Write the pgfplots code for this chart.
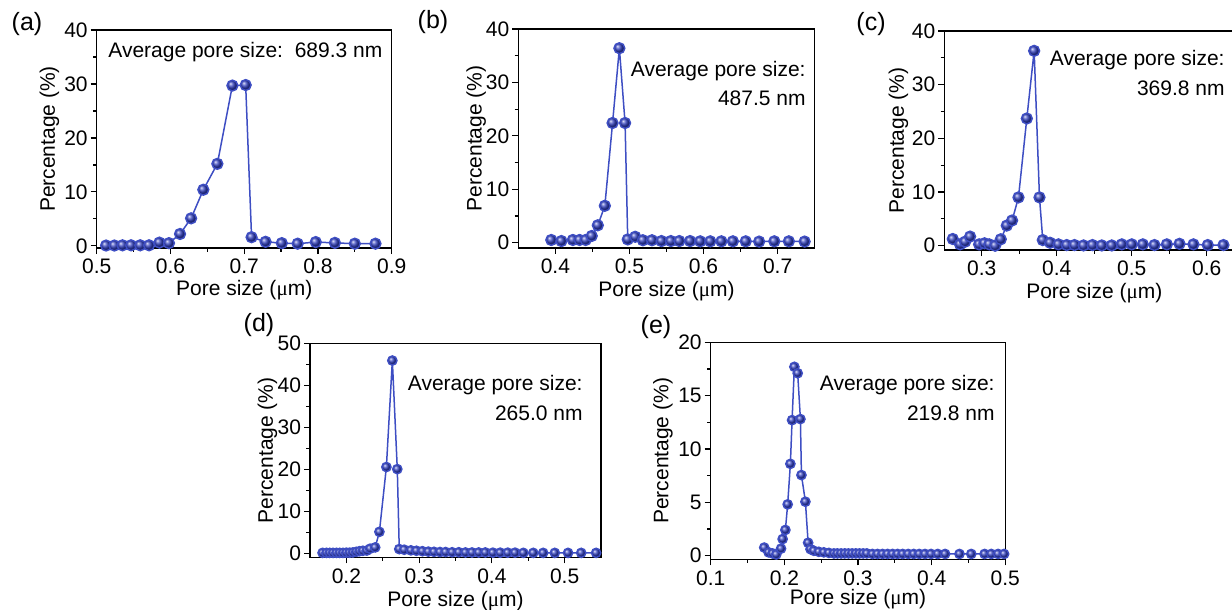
\documentclass[border=0pt]{standalone}
\usepackage{pgfplots}
\pgfplotsset{compat=1.18}
\usepackage{fontspec}
\setmainfont{Liberation Sans}
\newfontfamily\serif{Liberation Serif}
\definecolor{lblue}{RGB}{62,78,195}
\definecolor{bblue}{RGB}{50,64,190}
\newcommand{\fs}{\fontsize{10.5}{12.6}\selectfont}

\pgfplotstableread{
x y
0.5127 0.06
0.5240 0.06
0.5350 0.1
0.5466 0.1
0.5590 0.1
0.5710 0.1
0.5850 0.6
0.5980 0.5
0.6130 2.2
0.6280 5.1
0.6446 10.4
0.6636 15.2
0.6840 29.7
0.7020 29.8
0.7100 1.6
0.7290 0.75
0.7510 0.5
0.7725 0.4
0.7970 0.7
0.8230 0.55
0.8500 0.4
0.8780 0.4
}\dataA

\pgfplotstableread{
x y
0.3945 0.5
0.4082 0.3
0.4236 0.5
0.4327 0.5
0.4409 0.5
0.4491 1.25
0.4573 3.25
0.4668 6.9
0.4772 22.4
0.4864 36.4
0.4941 22.4
0.4977 0.6
0.5078 1.1
0.5181 0.45
0.5304 0.45
0.5432 0.3
0.5559 0.3
0.5673 0.3
0.5818 0.3
0.5955 0.25
0.6091 0.25
0.6241 0.25
0.6396 0.25
0.6569 0.25
0.6750 0.2
0.6955 0.25
0.7151 0.25
0.7364 0.2
}\dataB

\pgfplotstableread{
x y
0.2613 1.25
0.2710 0.25
0.2778 0.75
0.2844 1.7
0.2964 0.25
0.3036 0.45
0.3100 0.25
0.3178 0.0
0.3253 1.2
0.3333 3.75
0.3404 4.7
0.3489 9.0
0.3600 23.7
0.3698 36.3
0.3769 9.0
0.3813 1.05
0.3911 0.55
0.4022 0.25
0.4133 0.12
0.4236 0.12
0.4356 0.05
0.4476 0.12
0.4600 0.05
0.4733 0.05
0.4867 0.25
0.5000 0.25
0.5147 0.25
0.5302 0.12
0.5467 0.25
0.5636 0.35
0.5822 0.25
0.6013 0.12
0.6222 0.12
}\dataC

\pgfplotstableread{
x y
0.1673 0.2
0.1727 0.2
0.1772 0.2
0.1817 0.2
0.1864 0.2
0.1909 0.2
0.1954 0.2
0.2000 0.25
0.2045 0.25
0.2090 0.3
0.2136 0.45
0.2182 0.6
0.2227 0.7
0.2281 0.75
0.2327 1.2
0.2396 1.5
0.2454 5.2
0.2550 20.6
0.2632 45.9
0.2700 20.1
0.2727 1.1
0.2795 0.95
0.2887 0.8
0.2963 0.7
0.3045 0.6
0.3127 0.5
0.3205 0.45
0.3287 0.4
0.3364 0.4
0.3454 0.35
0.3546 0.35
0.3637 0.3
0.3727 0.3
0.3819 0.3
0.3910 0.3
0.4014 0.25
0.4115 0.25
0.4218 0.25
0.4319 0.25
0.4433 0.2
0.4569 0.2
0.4705 0.2
0.4865 0.2
0.5047 0.2
0.5228 0.2
0.5433 0.2
}\dataD

\pgfplotstableread{
x y
0.1727 0.75
0.1786 0.3
0.1840 0.2
0.1890 0.1
0.1955 0.65
0.1977 1.55
0.2014 2.4
0.2045 4.8
0.2082 8.6
0.2105 12.7
0.2136 17.7
0.2181 17.1
0.2218 12.8
0.2232 7.55
0.2286 5.05
0.2323 1.2
0.2355 0.6
0.2400 0.45
0.2468 0.35
0.2536 0.3
0.2605 0.25
0.2673 0.2
0.2720 0.2
0.2770 0.2
0.2820 0.2
0.2870 0.2
0.2920 0.2
0.2970 0.2
0.3020 0.2
0.3070 0.2
0.3120 0.2
0.3196 0.15
0.3265 0.15
0.3333 0.15
0.3401 0.15
0.3469 0.15
0.3537 0.15
0.3606 0.15
0.3682 0.15
0.3756 0.15
0.3832 0.15
0.3910 0.15
0.3992 0.15
0.4083 0.15
0.4183 0.15
0.4378 0.15
0.4538 0.15
0.4719 0.15
0.4810 0.15
0.4902 0.15
0.4984 0.15
}\dataE

\pgfplotsset{
  pp/.style={
    scale only axis,
    anchor=north west,
    axis line style={line width=0.75pt},
    every tick/.style={black, line width=0.6pt},
    tick align=outside,
    xtick pos=bottom, ytick pos=left,
    major tick length=3pt, minor tick length=1.8pt,
    minor x tick num=1, minor y tick num=1,
    tick label style={font=\fs},
    yticklabel style={xshift=2pt},
    xticklabel style={yshift=1pt},
    label style={font=\fs},
    /pgf/number format/assume math mode=true,
    /pgf/number format/fixed,
    /pgf/number format/precision=2,
    xlabel={Pore size ({\serif μ}m)},
    ylabel={Percentage (\%)},
  },
  ser/.style={color=lblue, line width=0.75pt, mark=ball, mark size=2.7pt, mark options={ball color=bblue}},
}

\begin{document}
\begin{tikzpicture}
\path[use as bounding box] (0,0) rectangle (616pt,-305pt);

% (a)
\begin{axis}[pp, at={(48.35pt,-15pt)}, width=147.5pt, height=109pt,
  xmin=0.5, xmax=0.9, ymin=-0.4, ymax=40,
  xtick={0.5,0.6,0.7,0.8,0.9}, ytick={0,10,20,30,40},
  ylabel style={at={(axis description cs:-0.16,0.5)}, anchor=center},
  xlabel style={at={(axis description cs:0.5,-0.195)}, anchor=center}]
\addplot[ser] table[x=x,y=y] {\dataA};
\end{axis}

% (b)
\begin{axis}[pp, at={(259.15pt,-14.5pt)}, width=148.2pt, height=109.5pt,
  xmin=0.35, xmax=0.75, ymin=-1, ymax=40,
  xtick={0.4,0.5,0.6,0.7}, ytick={0,10,20,30,40},
  ylabel style={at={(axis description cs:-0.142,0.5)}, anchor=center},
  xlabel style={at={(axis description cs:0.5,-0.195)}, anchor=center}]
\addplot[ser] table[x=x,y=y] {\dataB};
\end{axis}

% (c)
\begin{axis}[pp, at={(472.15pt,-15.5pt)}, width=150pt, height=109.5pt,
  xmin=0.25, xmax=0.65, ymin=-0.8, ymax=40,
  xtick={0.3,0.4,0.5,0.6}, ytick={0,10,20,30,40},
  ylabel style={at={(axis description cs:-0.153,0.5)}, anchor=center},
  xlabel style={at={(axis description cs:0.5,-0.195)}, anchor=center}]
\addplot[ser] table[x=x,y=y] {\dataC};
\end{axis}

% (d)
\begin{axis}[pp, at={(155pt,-171.65pt)}, width=145.5pt, height=107pt,
  xmin=0.15, xmax=0.55, ymin=-0.85, ymax=50,
  xtick={0.2,0.3,0.4,0.5}, ytick={0,10,20,30,40,50},
  ylabel style={at={(axis description cs:-0.146,0.5)}, anchor=center},
  xlabel style={at={(axis description cs:0.5,-0.205)}, anchor=center}]
\addplot[ser, mark size=2.3pt] table[x=x,y=y] {\dataD};
\end{axis}

% (e)
\begin{axis}[pp, at={(355.35pt,-171.15pt)}, width=147.3pt, height=108.5pt,
  xmin=0.1, xmax=0.5, ymin=-0.35, ymax=20,
  xtick={0.1,0.2,0.3,0.4,0.5}, ytick={0,5,10,15,20},
  ylabel style={at={(axis description cs:-0.162,0.5)}, anchor=center},
  xlabel style={at={(axis description cs:0.5,-0.185)}, anchor=center}]
\addplot[ser, mark size=2.3pt] table[x=x,y=y] {\dataE};
\end{axis}

% annotations
\begin{scope}[every node/.style={font=\fs, inner sep=0pt}]
\node[anchor=west] at (54pt,-25.85pt) {Average pore size:\ \ 689.3 nm};
\node[anchor=east] at (403pt,-35.5pt) {Average pore size:};
\node[anchor=east] at (403pt,-49pt) {487.5 nm};
\node[anchor=east] at (612.5pt,-30pt) {Average pore size:};
\node[anchor=east] at (612.5pt,-44pt) {369.8 nm};
\node[anchor=east] at (291.5pt,-192.5pt) {Average pore size:};
\node[anchor=east] at (291.5pt,-206.5pt) {265.0 nm};
\node[anchor=east] at (497.5pt,-192.5pt) {Average pore size:};
\node[anchor=east] at (497.5pt,-206.5pt) {219.8 nm};
\end{scope}
\begin{scope}[every node/.style={font=\fontsize{12.5}{14}\selectfont, inner sep=0pt}]
\node at (13.5pt,-12pt) {(a)};
\node at (216.5pt,-11pt) {(b)};
\node at (435.5pt,-12pt) {(c)};
\node at (129.5pt,-162.5pt) {(d)};
\node at (328pt,-163.5pt) {(e)};
\end{scope}
\end{tikzpicture}
\end{document}
